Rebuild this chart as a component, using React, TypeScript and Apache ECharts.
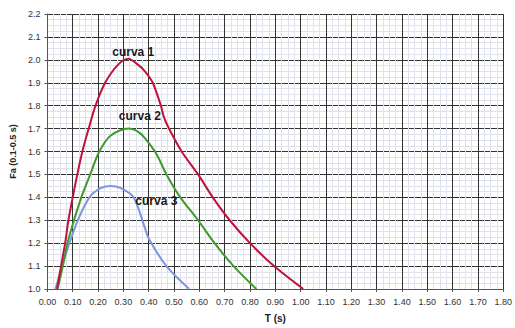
import React, { useEffect, useRef } from "react";
import * as echarts from "echarts";

const curve1: [number, number][] = [
  [0.038, 1.0], [0.054, 1.1], [0.07, 1.2], [0.083, 1.3], [0.1, 1.4], [0.118, 1.5],
  [0.138, 1.6], [0.163, 1.7], [0.19, 1.8], [0.228, 1.9], [0.28, 1.98], [0.32, 2.005],
  [0.356, 1.98], [0.385, 1.95], [0.416, 1.9], [0.448, 1.8], [0.46, 1.75], [0.48, 1.7],
  [0.53, 1.6], [0.595, 1.5], [0.653, 1.4], [0.72, 1.3], [0.8, 1.2], [0.895, 1.1],
  [1.01, 1.0],
];
const curve2: [number, number][] = [
  [0.04, 1.0], [0.061, 1.1], [0.079, 1.2], [0.105, 1.3], [0.134, 1.4], [0.169, 1.5],
  [0.205, 1.6], [0.25, 1.67], [0.32, 1.7], [0.36, 1.685], [0.385, 1.658], [0.43, 1.59],
  [0.47, 1.5], [0.525, 1.4], [0.595, 1.3], [0.66, 1.2], [0.735, 1.1], [0.825, 1.0],
];
const curve3: [number, number][] = [
  [0.032, 1.0], [0.058, 1.1], [0.087, 1.2], [0.12, 1.3], [0.166, 1.4], [0.21, 1.44],
  [0.25, 1.45], [0.29, 1.44], [0.34, 1.4], [0.384, 1.27], [0.4, 1.22], [0.47, 1.1],
  [0.56, 1.0],
];
const curveNames = ["curva 1", "curva 2", "curva 3"];
const labelPos: [number, number][] = [[0.339, 2.036], [0.365, 1.756], [0.43, 1.383]];
const colors = ["#c1123a", "#3f9a2e", "#7f95dc"];

export default function App() {
  const ref = useRef<HTMLDivElement>(null);
  useEffect(() => {
    if (!ref.current) return;
    const chart = echarts.init(ref.current, null, { renderer: "svg" });
    const datas = [curve1, curve2, curve3];
    chart.setOption({
      animation: false,
      backgroundColor: "#ffffff",
      grid: { left: 40, right: 6, top: 14, bottom: 35 },
      xAxis: {
        type: "value",
        min: 0,
        max: 1.8,
        interval: 0.1,
        name: "T (s)",
        nameLocation: "middle",
        nameGap: 24,
        nameTextStyle: { fontFamily: "Liberation Sans", fontWeight: "bold", fontSize: 10, color: "#222" },
        axisLine: { show: true, onZero: false, lineStyle: { color: "#555", width: 1 } },
        axisTick: { show: true, length: 3, lineStyle: { color: "#555" } },
        axisLabel: {
          fontFamily: "Liberation Sans", fontSize: 9, color: "#333", margin: 8,
          formatter: (v: number) => v.toFixed(2),
        },
        splitLine: { show: true, lineStyle: { color: "#333", width: 1 } },
        minorTick: { show: false, splitNumber: 4 },
        minorSplitLine: { show: true, lineStyle: { color: "#e0e2ee", width: 1 } },
      },
      yAxis: {
        type: "value",
        min: 1.0,
        max: 2.2,
        interval: 0.1,
        name: "Fa (0.1-0.5 s)",
        nameLocation: "middle",
        nameGap: 29,
        nameTextStyle: { fontFamily: "Liberation Sans", fontWeight: "bold", fontSize: 9, color: "#222" },
        axisLine: { show: true, lineStyle: { color: "#555", width: 1 } },
        axisTick: { show: true, length: 3, lineStyle: { color: "#555" } },
        axisLabel: {
          fontFamily: "Liberation Sans", fontSize: 9, color: "#333", margin: 7,
          formatter: (v: number) => v.toFixed(1),
        },
        splitLine: { show: true, lineStyle: { color: "#333", width: 1 } },
        minorTick: { show: false, splitNumber: 4 },
        minorSplitLine: { show: true, lineStyle: { color: "#e0e2ee", width: 1 } },
      },
      series: datas.map((d, i) => ({
        type: "line",
        name: curveNames[i],
        data: d,
        smooth: 0.3,
        showSymbol: false,
        lineStyle: { color: colors[i], width: 2 },
        itemStyle: { color: colors[i] },
        z: 5 - i,
        markPoint: {
          symbol: "circle",
          symbolSize: 0,
          data: [{ coord: labelPos[i], value: curveNames[i] }],
          label: {
            show: true,
            position: "inside",
            formatter: curveNames[i],
            fontFamily: "Liberation Sans",
            fontWeight: "bold",
            fontSize: 12,
            color: "#1a1a1a",
          },
        },
      })),
    });
    return () => chart.dispose();
  }, []);
  return <div ref={ref} style={{ width: 515, height: 328, position: "absolute", left: 0, top: 0 }} />;
}
